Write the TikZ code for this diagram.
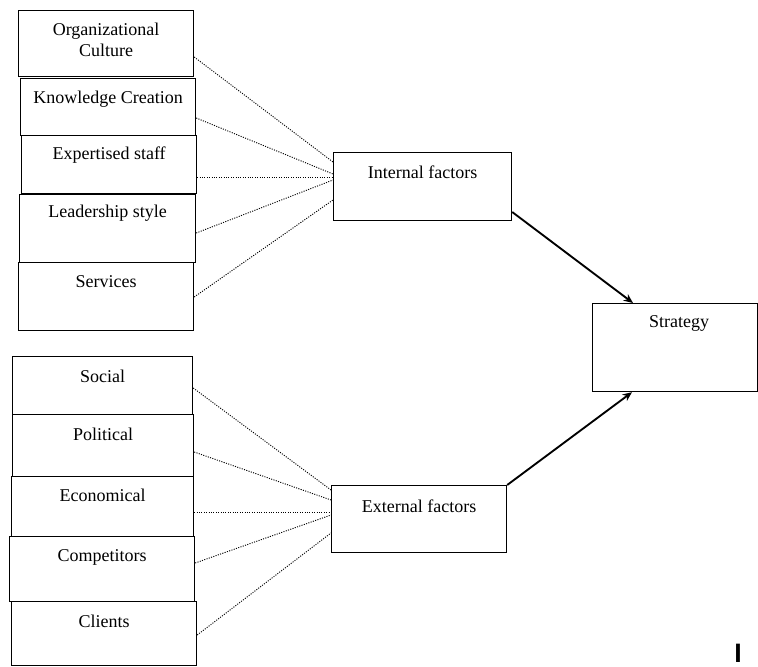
\documentclass[tikz,border=0pt]{standalone}
\usepackage{fontspec}
\setmainfont{Liberation Serif}
\newfontfamily\sansI{Liberation Sans}
\usetikzlibrary{calc,arrows.meta}
\begin{document}
\begin{tikzpicture}[x=0.75pt,y=-0.75pt,
  box/.style={draw, line width=0.9pt, inner sep=0pt, anchor=north west},
  lbl/.style={font=\fontsize{13.5}{15.5}\selectfont, align=center, inner sep=0pt},
  dotline/.style={dash pattern=on 0.8pt off 1pt, line width=0.7pt},
  arr/.style={line width=1.4pt, -{Stealth[length=7pt,width=6pt]}}]
\useasboundingbox (0,0) rectangle (758,667);
% top group
\node[box, minimum width={175*0.75pt}, minimum height={66*0.75pt}] (oc) at (18,10) {};
\node[box, minimum width={175*0.75pt}, minimum height={57*0.75pt}] (kc) at (20,78) {};
\node[box, minimum width={175*0.75pt}, minimum height={58*0.75pt}] (es) at (21,135) {};
\node[box, minimum width={176*0.75pt}, minimum height={68*0.75pt}] (ls) at (19,194) {};
\node[box, minimum width={175*0.75pt}, minimum height={68*0.75pt}] (sv) at (18,262) {};
% bottom group
\node[box, minimum width={180*0.75pt}, minimum height={58*0.75pt}] (so) at (12,356) {};
\node[box, minimum width={181*0.75pt}, minimum height={62*0.75pt}] (po) at (12,414) {};
\node[box, minimum width={182*0.75pt}, minimum height={60*0.75pt}] (ec) at (11,476) {};
\node[box, minimum width={185*0.75pt}, minimum height={65*0.75pt}] (co) at (9,536) {};
\node[box, minimum width={185*0.75pt}, minimum height={64*0.75pt}] (cl) at (11,601) {};
% middle and right
\node[box, minimum width={178*0.75pt}, minimum height={68*0.75pt}] (int) at (333,152) {};
\node[box, minimum width={175*0.75pt}, minimum height={67*0.75pt}] (ext) at (331,485) {};
\node[box, minimum width={165*0.75pt}, minimum height={88*0.75pt}] (str) at (592,303) {};
% labels
\node[lbl] (toc) at ($(oc.north)+(0,30)$) {Organizational\\Culture};
\node[lbl] (tkc) at ($(kc.north)+(0,21)$) {Knowledge Creation};
\node[lbl] (tes) at ($(es.north)+(0,20)$) {Expertised staff};
\node[lbl] (tls) at ($(ls.north)+(0,19)$) {Leadership style};
\node[lbl] (tsv) at ($(sv.north)+(0,20)$) {Services};
\node[lbl] (tso) at ($(so.north)+(0,20)$) {Social};
\node[lbl] (tpo) at ($(po.north)+(0,20)$) {Political};
\node[lbl] (tec) at ($(ec.north)+(0,19)$) {Economical};
\node[lbl] (tco) at ($(co.north)+(0,21)$) {Competitors};
\node[lbl] (tcl) at ($(cl.north)+(0,20)$) {Clients};
\node[lbl] (tint) at ($(int.north)+(0,20)$) {Internal factors};
\node[lbl] (text) at ($(ext.north)+(0,21)$) {External factors};
\node[lbl] (tstr) at ($(str.north)+(4,20)$) {Strategy};
\node[font=\sansI\bfseries\fontsize{20}{22}\selectfont, inner sep=0pt] (mark) at (738,653) {I};
% dotted connectors, top
\draw[dotline] ($(oc.north east)+(0,47)$) -- ($(int.north west)+(0,10)$);
\draw[dotline] ($(kc.north east)+(0,40)$) -- ($(int.north west)+(0,22)$);
\draw[dotline] ($(es.north east)+(0,42)$) -- ($(int.north west)+(0,25)$);
\draw[dotline] ($(ls.north east)+(0,39)$) -- ($(int.north west)+(0,28)$);
\draw[dotline] ($(sv.north east)+(0,35)$) -- ($(int.north west)+(0,48)$);
% dotted connectors, bottom
\draw[dotline] ($(so.north east)+(0,32)$) -- ($(ext.north west)+(0,5)$);
\draw[dotline] ($(po.north east)+(0,38)$) -- ($(ext.north west)+(0,15)$);
\draw[dotline] ($(ec.north east)+(0,36)$) -- ($(ext.north west)+(0,27)$);
\draw[dotline] ($(co.north east)+(0,27)$) -- ($(ext.north west)+(0,30)$);
\draw[dotline] ($(cl.north east)+(0,34)$) -- ($(ext.north west)+(0,48)$);
% arrows
\draw[arr] ($(int.north east)+(0,60)$) -- ($(str.north west)+(41,0)$);
\draw[arr] (ext.north east) -- ($(str.south west)+(40,0)$);
\end{tikzpicture}
\end{document}
